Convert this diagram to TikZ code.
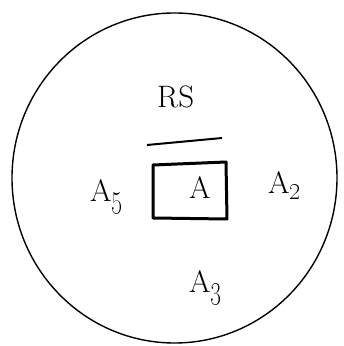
\documentclass[tikz,border=0pt]{standalone}
\usetikzlibrary{calc}
\begin{document}
\begin{tikzpicture}[x=1pt,y=1pt,
  lbl/.style={inner sep=0pt, anchor=base west, font=\fontsize{31}{34}\selectfont}]
\useasboundingbox (0,0) rectangle (344,346);
\newcommand{\osub}[1]{\raisebox{-6pt}{\scalebox{0.85}[1.15]{\oldstylenums{#1}}}}
\draw[line width=1.4pt] (174.5,168) ellipse [x radius=162.5, y radius=165];
\coordinate (l1) at (147,201);
\coordinate (l2) at (222,208);
\draw[line width=2pt] (l1) -- (l2);
\coordinate (b1) at (153,181);
\coordinate (b2) at (226,184);
\coordinate (b3) at (227,127);
\coordinate (b4) at (153,128);
\draw[line width=3pt, line join=round] (b1) -- (b2) -- (b3) -- (b4) -- cycle;
\node[lbl] (rs) at (157,238) {RS};
\node[lbl] (a) at (189,147) {A};
\node[lbl] (a5) at (90,144) {A\osub{5}};
\node[lbl] (a2) at (268,152) {A\osub{2}};
\node[lbl] (a3) at (189,53) {A\osub{3}};
\end{tikzpicture}
\end{document}
